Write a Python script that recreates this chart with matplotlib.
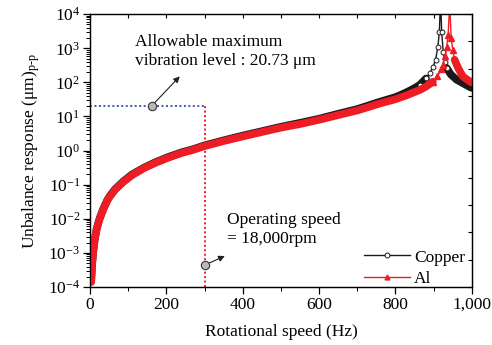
import matplotlib
matplotlib.use("Agg")
import matplotlib.pyplot as plt
from matplotlib.lines import Line2D
from matplotlib.ticker import LogLocator, MultipleLocator, NullFormatter

plt.rcParams['font.family'] = ['Liberation Serif', 'DejaVu Serif']
plt.rcParams['mathtext.fontset'] = 'custom'
plt.rcParams['mathtext.rm'] = 'Liberation Serif'
plt.rcParams['mathtext.it'] = 'Liberation Serif:italic'

# unbalance response (Hz, um p-p)
freq_cu = [3, 5, 8, 12, 17, 22, 26, 35, 45, 52, 65, 87, 110, 140, 170, 205, 240,
           270, 300, 350, 400, 450, 500, 550, 600, 650, 700, 759, 800, 812, 830,
           850, 864, 880, 890, 898, 905, 911, 915, 918, 921, 925, 930, 934, 945,
           960, 980, 999]
resp_cu = [1.45e-4, 4.1e-4, 1.03e-3, 2.4e-3, 4.9e-3, 7.9e-3, 1.1e-2, 2.0e-2,
           3.5e-2, 4.7e-2, 7.3e-2, 0.125, 0.2, 0.31, 0.45, 0.65, 0.89, 1.1, 1.42,
           2.0, 2.75, 3.7, 5.0, 6.5, 8.6, 12, 16.5, 27, 37, 42, 52, 68, 85, 130,
           190, 280, 450, 1100, 3000, 30000, 3000, 800, 400, 265, 170, 120, 90, 69]

freq_al = [3, 5, 8, 12, 17, 22, 26, 35, 45, 52, 65, 87, 110, 140, 170, 205, 240,
           270, 300, 350, 400, 450, 500, 550, 600, 650, 700, 759, 800, 830, 850,
           864, 880, 898, 910, 920, 925, 930, 934, 938, 942, 946, 950, 955, 965,
           977, 988, 999]
resp_al = [1.4e-4, 4.0e-4, 1.0e-3, 2.3e-3, 4.7e-3, 7.6e-3, 1.05e-2, 1.9e-2,
           3.4e-2, 4.5e-2, 7.0e-2, 0.12, 0.19, 0.30, 0.43, 0.62, 0.85, 1.05, 1.35,
           1.9, 2.6, 3.5, 4.7, 6.0, 8.0, 11, 15, 24, 32, 42, 52, 60, 75, 105, 150,
           240, 330, 600, 1100, 2500, 20000, 2000, 900, 460, 250, 147, 120, 100]

limit_level = 20.73      # um
operating_speed = 300    # Hz (18,000 rpm)

fig = plt.figure(figsize=(4.92, 3.45), dpi=100)
ax = fig.add_axes([0.183, 0.168, 0.776, 0.791])

# thick band where the dense markers overlap, thin line + markers near resonance
band_cu = [i for i, f in enumerate(freq_cu) if f <= 880]
tail_cu = [i for i, f in enumerate(freq_cu) if f >= 934]
band_al = [i for i, f in enumerate(freq_al) if f <= 905]
tail_al = [i for i, f in enumerate(freq_al) if f >= 955]
mk_cu = [i for i, f in enumerate(freq_cu) if 860 < f < 940]
mk_al = [i for i, f in enumerate(freq_al) if 880 < f < 960]
for idx in (band_cu, tail_cu):
    ax.plot([freq_cu[i] for i in idx], [resp_cu[i] for i in idx],
            color='#1a1a1a', lw=5.5, solid_capstyle='round', zorder=2)
ax.plot(freq_cu, resp_cu, color='#1a1a1a', lw=1.0, marker='o', ms=3.5,
        mfc='white', mec='#1a1a1a', mew=0.7, markevery=mk_cu, zorder=3)
for idx in (band_al, tail_al):
    ax.plot([freq_al[i] for i in idx], [resp_al[i] for i in idx],
            color='#ee1c24', lw=5.5, solid_capstyle='round', zorder=4)
ax.plot(freq_al, resp_al, color='#ee1c24', lw=1.0, marker='^', ms=3.8,
        mfc='#ee1c24', mec='#ee1c24', markevery=mk_al, zorder=5)

# allowable level / operating speed guides
ax.plot([0, operating_speed], [limit_level, limit_level], color='#3a5cb0',
        lw=1.4, linestyle=(0, (1, 1.3)), zorder=6)
ax.plot([operating_speed, operating_speed], [1e-4, limit_level], color='#ee1c24',
        lw=1.4, linestyle=(0, (1, 1.3)), zorder=6)

ax.annotate('', xy=(235, 150), xytext=(162, limit_level),
            arrowprops=dict(arrowstyle='-|>', color='#222222', lw=0.8,
                            mutation_scale=9, shrinkA=3, shrinkB=0), zorder=7)
ax.plot(162, limit_level, 'o', ms=6, mfc='#b8b8b8', mec='#333333', mew=0.8, zorder=8)
ax.text(118, 800, 'Allowable maximum\nvibration level : 20.73 \u03bcm',
        fontsize=12.5, va='center', ha='left', linespacing=1.25)

ax.annotate('', xy=(353, 8.1e-4), xytext=(operating_speed, 4.4e-4),
            arrowprops=dict(arrowstyle='-|>', color='#222222', lw=0.8,
                            mutation_scale=9, shrinkA=3, shrinkB=0), zorder=7)
ax.plot(operating_speed, 4.4e-4, 'o', ms=6, mfc='#b8b8b8', mec='#333333', mew=0.8, zorder=8)
ax.text(359, 5.0e-3, 'Operating speed\n= 18,000rpm',
        fontsize=12.5, va='center', ha='left', linespacing=1.25)

ax.set_yscale('log')
ax.set_xlim(0, 1000)
ax.set_ylim(1e-4, 1e4)
ax.xaxis.set_minor_locator(MultipleLocator(100))
ax.set_xticks([0, 200, 400, 600, 800, 1000])
ax.set_xticklabels(['0', '200', '400', '600', '800', '1,000'])
ax.yaxis.set_major_locator(LogLocator(base=10, numticks=20))
ax.yaxis.set_minor_locator(LogLocator(base=10, subs=range(2, 10), numticks=20))
ax.yaxis.set_minor_formatter(NullFormatter())
ax.tick_params(which='major', direction='out', length=5, width=0.9, labelsize=12.5, pad=2)
ax.tick_params(which='minor', direction='out', length=3, width=0.7)

ax.set_xlabel('Rotational speed (Hz)', fontsize=12.5, labelpad=8)
ax.set_ylabel('Unbalance response (\u03bcm)$_{\\mathrm{p\\text{-}p}}$', fontsize=12.5, labelpad=4)

for s in ax.spines.values():
    s.set_linewidth(0.9)

# mirrored ticks on top and right
axt = ax.twiny()
axt.set_xlim(0, 1000)
axt.xaxis.set_major_locator(MultipleLocator(100))
axt.tick_params(axis='x', direction='in', length=3, width=0.8, labeltop=False)
axr = ax.twinx()
axr.set_ylim(0, 10)
axr.yaxis.set_major_locator(MultipleLocator(1))
axr.tick_params(axis='y', direction='in', length=3, width=0.8, labelright=False)

handles = [Line2D([], [], color='#1a1a1a', lw=1.0, marker='o', ms=3.5,
                  mfc='white', mec='#1a1a1a', mew=0.7),
           Line2D([], [], color='#ee1c24', lw=1.0, marker='^', ms=3.5,
                  mfc='#ee1c24', mec='#ee1c24')]
ax.legend(handles, ['Copper', 'Al'], loc='lower right', frameon=False,
          fontsize=12.5, handlelength=2.7, handletextpad=0.2, labelspacing=0.3,
          borderaxespad=0.0, bbox_to_anchor=(1.0, -0.025))

fig.savefig('out.png', dpi=100)
